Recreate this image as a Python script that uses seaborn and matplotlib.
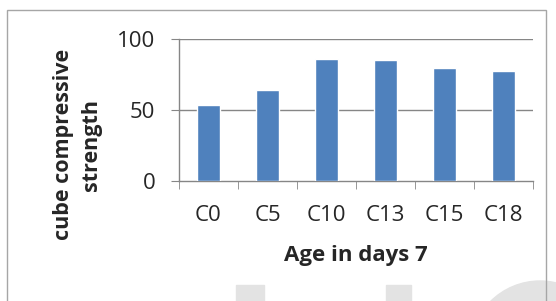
import matplotlib
matplotlib.use("Agg")
import matplotlib.pyplot as plt
import matplotlib.patches as mpatches
import seaborn as sns
import pandas as pd

# ----------------------
# Data
# ----------------------
mixes = ["C0", "C5", "C10", "C13", "C15", "C18"]
strength = [53.4, 64.3, 85.6, 85.1, 79.6, 77.8]
y_ticks = [0, 50, 100]

df = pd.DataFrame({"mix": mixes, "strength": strength})

# ----------------------
# Style
# ----------------------
sns.set_style("white")
plt.rcParams["font.family"] = ["Open Sans", "DejaVu Sans"]

GRID = "#868686"
BAR = "#4F81BD"

fig = plt.figure(figsize=(5.56, 3.01), dpi=100)
ax = fig.add_axes([179 / 556, 1 - 181 / 301, (533 - 179) / 556, (181 - 39) / 301])

sns.barplot(data=df, x="mix", y="strength", color=BAR, width=0.39,
            saturation=1, ax=ax, zorder=3)

ax.set_ylim(0, 100)
ax.set_xlim(-0.5, len(mixes) - 0.5)
ax.set_yticks(y_ticks)
ax.set_yticklabels([str(t) for t in y_ticks], fontsize=16)
ax.set_xticklabels(mixes, fontsize=16)

# gridlines at 50 and 100
for t in y_ticks[1:]:
    ax.axhline(t, color=GRID, lw=1, zorder=1)

for side in ["top", "right"]:
    ax.spines[side].set_visible(False)
for side in ["left", "bottom"]:
    ax.spines[side].set_color(GRID)
    ax.spines[side].set_linewidth(1)

ax.tick_params(axis="y", direction="out", length=6, color=GRID, pad=11, left=True)
ax.tick_params(axis="x", which="major", length=0, pad=17)
ax.set_xticks([i - 0.5 for i in range(len(mixes) + 1)], minor=True)
ax.tick_params(axis="x", which="minor", direction="out", length=6, color=GRID, bottom=True)

ax.set_xlabel("Age in days 7", fontsize=16, fontweight="bold", labelpad=14)
ax.set_ylabel("cube compressive\nstrength", fontsize=15.5, fontweight="bold",
              linespacing=1.45)
# the label sits lower than the axes centre in the original
ax.yaxis.set_label_coords(-0.2175, 0.254)

# chart frame
fig.patches.append(mpatches.Rectangle((7 / 556, -0.1), (546 - 7) / 556, 1.1 - 10 / 301,
                                      transform=fig.transFigure, fill=False,
                                      edgecolor="#a6a6a6", lw=1))

# faint watermark shapes at the bottom
wm = "#e3e3e3"
fig.patches.append(mpatches.Rectangle((236 / 556, 0), 28 / 556, 16 / 301,
                                      transform=fig.transFigure, color=wm, zorder=0))
fig.patches.append(mpatches.Rectangle((386 / 556, 0), 25 / 556, 16 / 301,
                                      transform=fig.transFigure, color=wm, zorder=0))
fig.patches.append(mpatches.Ellipse((540 / 556, -50 / 301), 140 / 556, 140 / 301,
                                    transform=fig.transFigure, color=wm, zorder=0))

fig.savefig("out.png", dpi=100)
